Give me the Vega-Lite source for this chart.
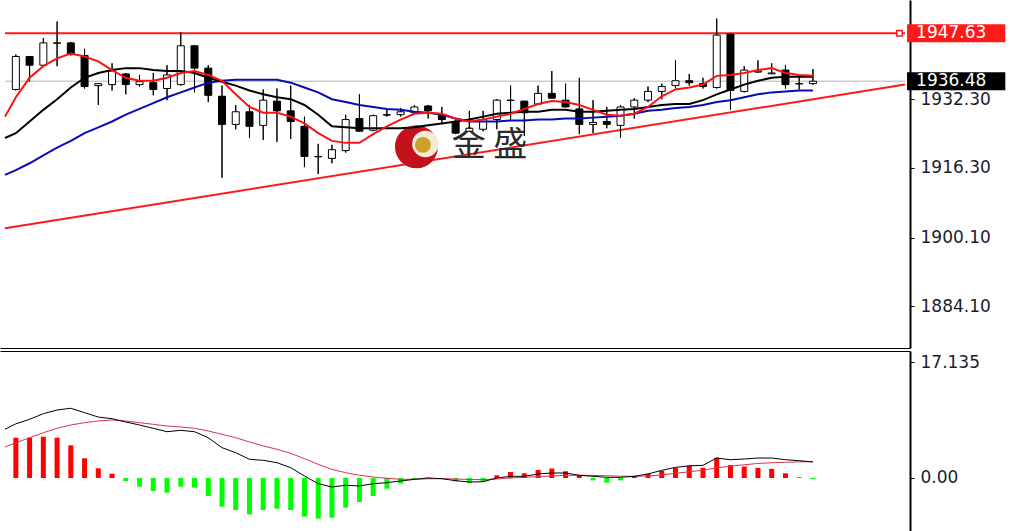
{
  "$schema": "https://vega.github.io/schema/vega-lite/v6.json",
  "padding": 0,
  "spacing": 3,
  "background": "white",
  "config": {
    "view": {"stroke": null},
    "axis": {"labelFont": "DejaVu Sans", "labelFontSize": 17, "labelColor": "#1b1b2f", "domainColor": "black", "tickColor": "black", "grid": false}
  },
  "datasets": {
    "candles": [
      {"i":1,"o":1934.56,"h":1942.68,"l":1934.33,"c":1942.23},
      {"i":2,"o":1942.23,"h":1942.3,"l":1936.36,"c":1940.2},
      {"i":3,"o":1940.2,"h":1946.52,"l":1939.97,"c":1945.39},
      {"i":4,"o":1945.39,"h":1950.36,"l":1939.97,"c":1945.3},
      {"i":5,"o":1945.39,"h":1945.6,"l":1942.46,"c":1942.68},
      {"i":6,"o":1942.46,"h":1944.04,"l":1934.78,"c":1935.23},
      {"i":7,"o":1935.46,"h":1935.95,"l":1930.95,"c":1935.91},
      {"i":8,"o":1935.69,"h":1940.65,"l":1934.33,"c":1938.85},
      {"i":9,"o":1938.17,"h":1938.39,"l":1933.43,"c":1935.69},
      {"i":10,"o":1935.69,"h":1937.94,"l":1935.23,"c":1936.36},
      {"i":11,"o":1936.14,"h":1938.39,"l":1933.2,"c":1934.56},
      {"i":12,"o":1934.78,"h":1940.2,"l":1932.07,"c":1937.94},
      {"i":13,"o":1935.69,"h":1947.88,"l":1935.46,"c":1944.72},
      {"i":14,"o":1944.72,"h":1944.9,"l":1933.88,"c":1939.52},
      {"i":15,"o":1939.52,"h":1940.2,"l":1931.62,"c":1933.2},
      {"i":16,"o":1932.98,"h":1935.46,"l":1914.02,"c":1926.43},
      {"i":17,"o":1926.43,"h":1930.95,"l":1925.3,"c":1929.37},
      {"i":18,"o":1929.37,"h":1930.95,"l":1923.27,"c":1925.98},
      {"i":19,"o":1926.21,"h":1934.56,"l":1922.82,"c":1932.07},
      {"i":20,"o":1931.85,"h":1934.78,"l":1922.37,"c":1929.59},
      {"i":21,"o":1929.59,"h":1935.46,"l":1923.05,"c":1927.11},
      {"i":22,"o":1925.98,"h":1928.24,"l":1916.5,"c":1918.98},
      {"i":23,"o":1918.98,"h":1921.92,"l":1914.92,"c":1918.9},
      {"i":24,"o":1918.53,"h":1921.69,"l":1917.4,"c":1920.56},
      {"i":25,"o":1920.34,"h":1928.69,"l":1919.88,"c":1927.56},
      {"i":26,"o":1927.79,"h":1933.43,"l":1924.8,"c":1924.85},
      {"i":27,"o":1925.08,"h":1928.69,"l":1924.85,"c":1928.46},
      {"i":28,"o":1928.69,"h":1929.82,"l":1928.24,"c":1928.6},
      {"i":29,"o":1928.69,"h":1930.27,"l":1928.24,"c":1929.37},
      {"i":30,"o":1929.14,"h":1930.95,"l":1928.91,"c":1930.49},
      {"i":31,"o":1930.72,"h":1930.95,"l":1927.79,"c":1929.59},
      {"i":32,"o":1928.69,"h":1930.49,"l":1926.66,"c":1927.56},
      {"i":33,"o":1927.11,"h":1927.56,"l":1924.17,"c":1924.4},
      {"i":34,"o":1924.85,"h":1929.59,"l":1924.8,"c":1925.53},
      {"i":35,"o":1925.3,"h":1929.59,"l":1924.85,"c":1927.56},
      {"i":36,"o":1927.56,"h":1932.3,"l":1925.3,"c":1932.07},
      {"i":37,"o":1932.07,"h":1935.46,"l":1927.56,"c":1932.0},
      {"i":38,"o":1931.85,"h":1931.9,"l":1923.72,"c":1929.14},
      {"i":39,"o":1931.17,"h":1935.46,"l":1930.95,"c":1933.65},
      {"i":40,"o":1933.65,"h":1938.85,"l":1932.5,"c":1932.53},
      {"i":41,"o":1932.07,"h":1935.91,"l":1930.45,"c":1930.49},
      {"i":42,"o":1930.04,"h":1937.27,"l":1924.17,"c":1926.43},
      {"i":43,"o":1926.43,"h":1932.07,"l":1924.4,"c":1926.9},
      {"i":44,"o":1927.11,"h":1930.49,"l":1925.53,"c":1926.43},
      {"i":45,"o":1926.2,"h":1930.95,"l":1923.27,"c":1930.49},
      {"i":46,"o":1930.49,"h":1932.53,"l":1927.79,"c":1932.07},
      {"i":47,"o":1932.07,"h":1935.23,"l":1931.62,"c":1934.11},
      {"i":48,"o":1934.11,"h":1935.91,"l":1932.3,"c":1935.23},
      {"i":49,"o":1935.46,"h":1941.33,"l":1934.78,"c":1936.59},
      {"i":50,"o":1936.59,"h":1938.17,"l":1935.46,"c":1936.14},
      {"i":51,"o":1935.91,"h":1937.27,"l":1934.78,"c":1935.23},
      {"i":52,"o":1935.01,"h":1951.04,"l":1934.78,"c":1947.2},
      {"i":53,"o":1947.42,"h":1947.5,"l":1929.82,"c":1934.33},
      {"i":54,"o":1934.11,"h":1939.97,"l":1933.88,"c":1939.07},
      {"i":55,"o":1938.6,"h":1941.33,"l":1938.4,"c":1938.85},
      {"i":56,"o":1938.2,"h":1940.65,"l":1938.17,"c":1938.4},
      {"i":57,"o":1939.07,"h":1940.2,"l":1934.78,"c":1935.69},
      {"i":58,"o":1935.91,"h":1937.72,"l":1934.56,"c":1935.85},
      {"i":59,"o":1935.91,"h":1939.3,"l":1935.69,"c":1936.48}
    ],
    "ma": [
      {"i":0.21,"r":1928.24,"k":1923.27,"b":1914.69},
      {"i":1,"r":1932.75,"k":1924.4,"b":1915.82},
      {"i":2,"r":1937.27,"k":1927.11,"b":1917.4},
      {"i":3,"r":1939.97,"k":1929.82,"b":1919.21},
      {"i":4,"r":1941.78,"k":1932.3,"b":1921.01},
      {"i":5,"r":1942.91,"k":1935.01,"b":1922.6},
      {"i":6,"r":1942.23,"k":1937.27,"b":1924.4},
      {"i":7,"r":1941.1,"k":1938.39,"b":1925.75},
      {"i":8,"r":1939.07,"k":1939.07,"b":1927.11},
      {"i":9,"r":1937.27,"k":1939.52,"b":1928.69},
      {"i":10,"r":1936.59,"k":1939.52,"b":1930.04},
      {"i":11,"r":1936.59,"k":1939.07,"b":1931.4},
      {"i":12,"r":1937.27,"k":1938.85,"b":1932.75},
      {"i":13,"r":1938.39,"k":1938.85,"b":1933.88},
      {"i":14,"r":1938.85,"k":1938.39,"b":1935.01},
      {"i":15,"r":1937.94,"k":1937.27,"b":1936.14},
      {"i":16,"r":1936.59,"k":1936.36,"b":1936.59},
      {"i":17,"r":1933.43,"k":1935.46,"b":1936.81},
      {"i":18,"r":1930.5,"k":1934.33,"b":1936.81},
      {"i":19,"r":1929.14,"k":1933.43,"b":1936.81},
      {"i":20,"r":1929.14,"k":1932.75,"b":1936.81},
      {"i":21,"r":1928.24,"k":1932.3,"b":1936.14},
      {"i":22,"r":1926.66,"k":1930.95,"b":1935.01},
      {"i":23,"r":1924.4,"k":1928.69,"b":1933.88},
      {"i":24,"r":1922.6,"k":1925.98,"b":1932.3},
      {"i":25,"r":1922.14,"k":1925.75,"b":1931.62},
      {"i":26,"r":1922.14,"k":1925.53,"b":1930.95},
      {"i":27,"r":1924.17,"k":1925.53,"b":1930.49},
      {"i":28,"r":1925.98,"k":1925.53,"b":1930.04},
      {"i":29,"r":1927.56,"k":1925.53,"b":1929.82},
      {"i":30,"r":1928.91,"k":1925.75,"b":1929.37},
      {"i":31,"r":1929.14,"k":1926.21,"b":1929.14},
      {"i":32,"r":1928.91,"k":1926.66,"b":1928.69},
      {"i":33,"r":1927.79,"k":1927.11,"b":1927.79},
      {"i":34,"r":1927.11,"k":1927.56,"b":1927.11},
      {"i":35,"r":1927.56,"k":1928.24,"b":1927.11},
      {"i":36,"r":1928.24,"k":1928.91,"b":1927.11},
      {"i":37,"r":1928.91,"k":1929.14,"b":1927.33},
      {"i":38,"r":1930.04,"k":1929.37,"b":1927.33},
      {"i":39,"r":1931.17,"k":1929.37,"b":1927.56},
      {"i":40,"r":1931.85,"k":1929.82,"b":1927.56},
      {"i":41,"r":1931.62,"k":1929.82,"b":1927.79},
      {"i":42,"r":1930.95,"k":1929.37,"b":1927.79},
      {"i":43,"r":1929.82,"k":1929.37,"b":1928.01},
      {"i":44,"r":1928.69,"k":1929.59,"b":1928.24},
      {"i":45,"r":1928.46,"k":1929.82,"b":1928.46},
      {"i":46,"r":1928.91,"k":1930.04,"b":1928.91},
      {"i":47,"r":1930.49,"k":1930.49,"b":1929.59},
      {"i":48,"r":1932.98,"k":1930.95,"b":1929.82},
      {"i":49,"r":1934.56,"k":1931.17,"b":1930.27},
      {"i":50,"r":1935.01,"k":1931.17,"b":1930.49},
      {"i":51,"r":1935.69,"k":1932.07,"b":1930.95},
      {"i":52,"r":1937.72,"k":1933.43,"b":1931.62},
      {"i":53,"r":1937.94,"k":1934.56,"b":1932.07},
      {"i":54,"r":1938.39,"k":1935.69,"b":1932.75},
      {"i":55,"r":1939.07,"k":1936.59,"b":1933.43},
      {"i":56,"r":1939.52,"k":1937.27,"b":1933.88},
      {"i":57,"r":1938.39,"k":1937.49,"b":1934.11},
      {"i":58,"r":1937.94,"k":1937.49,"b":1934.33},
      {"i":59,"r":1937.72,"k":1937.49,"b":1934.33}
    ],
    "macd": [
      {"i":0.21,"hist":null,"dif":7.2,"dea":4.58},
      {"i":1,"hist":5.95,"dif":8.0,"dea":5.2},
      {"i":2,"hist":5.95,"dif":8.67,"dea":5.95},
      {"i":3,"hist":6.1,"dif":9.5,"dea":6.69},
      {"i":4,"hist":5.95,"dif":10.04,"dea":7.34},
      {"i":5,"hist":4.83,"dif":10.3,"dea":7.83},
      {"i":6,"hist":2.91,"dif":9.65,"dea":8.17},
      {"i":7,"hist":1.43,"dif":9.0,"dea":8.42},
      {"i":8,"hist":0.64,"dif":8.76,"dea":8.57},
      {"i":9,"hist":-0.44,"dif":8.27,"dea":8.42},
      {"i":10,"hist":-1.28,"dif":7.83,"dea":8.17},
      {"i":11,"hist":-1.92,"dif":7.34,"dea":7.93},
      {"i":12,"hist":-2.17,"dif":6.84,"dea":7.68},
      {"i":13,"hist":-1.28,"dif":7.04,"dea":7.53},
      {"i":14,"hist":-1.43,"dif":6.84,"dea":7.34},
      {"i":15,"hist":-2.66,"dif":5.95,"dea":6.94},
      {"i":16,"hist":-4.24,"dif":4.48,"dea":6.45},
      {"i":17,"hist":-4.73,"dif":3.74,"dea":5.95},
      {"i":18,"hist":-5.37,"dif":2.76,"dea":5.32},
      {"i":19,"hist":-4.73,"dif":2.61,"dea":4.73},
      {"i":20,"hist":-4.53,"dif":2.26,"dea":4.24},
      {"i":21,"hist":-4.73,"dif":1.52,"dea":3.65},
      {"i":22,"hist":-5.71,"dif":0.3,"dea":2.85},
      {"i":23,"hist":-6.0,"dif":-0.84,"dea":2.02},
      {"i":24,"hist":-5.86,"dif":-1.33,"dea":1.28},
      {"i":25,"hist":-4.38,"dif":-1.08,"dea":0.78},
      {"i":26,"hist":-3.55,"dif":-1.18,"dea":0.4},
      {"i":27,"hist":-2.66,"dif":-0.84,"dea":0.15},
      {"i":28,"hist":-1.58,"dif":-0.69,"dea":-0.04},
      {"i":29,"hist":-0.84,"dif":-0.44,"dea":-0.2},
      {"i":30,"hist":-0.2,"dif":-0.2,"dea":-0.18},
      {"i":31,"hist":0.05,"dif":0.0,"dea":-0.12},
      {"i":32,"hist":-0.1,"dif":-0.1,"dea":-0.1},
      {"i":33,"hist":-0.5,"dif":-0.4,"dea":-0.15},
      {"i":34,"hist":-0.7,"dif":-0.6,"dea":-0.22},
      {"i":35,"hist":-0.5,"dif":-0.55,"dea":-0.25},
      {"i":36,"hist":0.4,"dif":0.0,"dea":-0.15},
      {"i":37,"hist":0.9,"dif":0.25,"dea":0.0},
      {"i":38,"hist":0.7,"dif":0.25,"dea":0.1},
      {"i":39,"hist":1.2,"dif":0.6,"dea":0.2},
      {"i":40,"hist":1.4,"dif":0.74,"dea":0.3},
      {"i":41,"hist":1.0,"dif":0.74,"dea":0.38},
      {"i":42,"hist":0.4,"dif":0.4,"dea":0.4},
      {"i":43,"hist":-0.35,"dif":0.25,"dea":0.38},
      {"i":44,"hist":-0.7,"dif":0.1,"dea":0.33},
      {"i":45,"hist":-0.35,"dif":0.1,"dea":0.27},
      {"i":46,"hist":0.25,"dif":0.25,"dea":0.25},
      {"i":47,"hist":0.6,"dif":0.6,"dea":0.3},
      {"i":48,"hist":1.05,"dif":1.13,"dea":0.45},
      {"i":49,"hist":1.5,"dif":1.57,"dea":0.7},
      {"i":50,"hist":1.8,"dif":1.8,"dea":0.92},
      {"i":51,"hist":1.5,"dif":1.87,"dea":1.15},
      {"i":52,"hist":3.0,"dif":2.95,"dea":1.5},
      {"i":53,"hist":1.9,"dif":2.7,"dea":1.75},
      {"i":54,"hist":1.7,"dif":2.8,"dea":1.95},
      {"i":55,"hist":1.5,"dif":2.95,"dea":2.15},
      {"i":56,"hist":1.35,"dif":2.95,"dea":2.25},
      {"i":57,"hist":0.7,"dif":2.7,"dea":2.32},
      {"i":58,"hist":0.1,"dif":2.56,"dea":2.38},
      {"i":59,"hist":-0.15,"dif":2.36,"dea":2.42}
    ],
    "hlines": [
      {"i":0.21,"i2":65.7,"p":1947.63,"kind":"resistance"},
      {"i":0.21,"i2":65.7,"p":1936.48,"kind":"bid"}
    ],
    "trend": [
      {"i":0.21,"p":1902.28},
      {"i":65.7,"p":1935.69}
    ],
    "tags": [
      {"i":65.85,"i2":73.0,"p":1947.63,"label":"1947.63","kind":"resistance"},
      {"i":65.85,"i2":73.0,"p":1936.48,"label":"1936.48","kind":"bid"}
    ]
  },
  "vconcat": [
    {
      "width": 910,
      "height": 348,
      "encoding": {
        "x": {"field": "i", "type": "quantitative", "scale": {"domain": [0.21, 65.7], "nice": false, "zero": false},
              "axis": {"orient": "bottom", "labels": false, "ticks": false, "title": null, "grid": false, "domain": true, "domainColor": "black", "domainWidth": 1}}
      },
      "layer": [
        {
          "data": {"name": "candles"},
          "mark": {"type": "rule", "color": "black", "strokeWidth": 1},
          "encoding": {
            "y": {"field": "l", "type": "quantitative", "title": null, "scale": {"domain": [1875.6, 1954.2], "nice": false, "zero": false},
                  "axis": {"orient": "right", "values": [1884.1, 1900.1, 1916.3, 1932.3], "format": ".2f", "tickSize": 4, "labelPadding": 6, "domainWidth": 2, "labelAlign": "left", "labelBaseline": "middle", "title": null}},
            "y2": {"field": "h"}
          }
        },
        {
          "data": {"name": "hlines"},
          "transform": [{"filter": "datum.kind == 'bid'"}],
          "mark": {"type": "rule", "color": "#b4b4b4", "strokeWidth": 1},
          "encoding": {
            "x2": {"field": "i2"},
            "y": {"field": "p", "type": "quantitative", "title": null, "scale": {"domain": [1875.6, 1954.2], "nice": false, "zero": false}}
          }
        },
        {
          "data": {"name": "trend"},
          "mark": {"type": "line", "color": "#ff1a1a", "strokeWidth": 2},
          "encoding": {
            "y": {"field": "p", "type": "quantitative", "title": null, "scale": {"domain": [1875.6, 1954.2], "nice": false, "zero": false}}
          }
        },
        {
          "data": {"name": "hlines"},
          "transform": [{"filter": "datum.kind == 'resistance'"}],
          "mark": {"type": "rule", "color": "#ff1a1a", "strokeWidth": 2},
          "encoding": {
            "x2": {"field": "i2"},
            "y": {"field": "p", "type": "quantitative", "title": null, "scale": {"domain": [1875.6, 1954.2], "nice": false, "zero": false}}
          }
        },
        {
          "data": {"values": [{"i": 30.15, "p": 1921.23}]},
          "mark": {"type": "point", "shape": "circle", "filled": true, "color": "#c4121c", "size": 1850, "opacity": 1},
          "encoding": {
            "y": {"field": "p", "type": "quantitative", "title": null, "scale": {"domain": [1875.6, 1954.2], "nice": false, "zero": false}}
          }
        },
        {
          "data": {"values": [{"i": 30.8, "p": 1921.9}]},
          "mark": {"type": "point", "shape": "circle", "filled": true, "color": "#f6e9d6", "size": 700, "opacity": 1},
          "encoding": {
            "y": {"field": "p", "type": "quantitative", "title": null, "scale": {"domain": [1875.6, 1954.2], "nice": false, "zero": false}}
          }
        },
        {
          "data": {"values": [{"i": 30.62, "p": 1921.68}]},
          "mark": {"type": "point", "shape": "circle", "filled": true, "color": "#c9a227", "size": 250, "opacity": 1},
          "encoding": {
            "y": {"field": "p", "type": "quantitative", "title": null, "scale": {"domain": [1875.6, 1954.2], "nice": false, "zero": false}}
          }
        },
        {
          "data": {"values": [{"i": 35.47, "p": 1921.4, "t": "金 盛"}]},
          "mark": {"type": "text", "font": "Noto Sans CJK SC", "fontSize": 34, "color": "#2a2a2a", "align": "center", "baseline": "middle"},
          "encoding": {
            "y": {"field": "p", "type": "quantitative", "title": null, "scale": {"domain": [1875.6, 1954.2], "nice": false, "zero": false}},
            "text": {"field": "t"}
          }
        },
        {
          "data": {"name": "candles"},
          "mark": {"type": "rule", "color": "black", "strokeWidth": 1},
          "encoding": {
            "y": {"field": "l", "type": "quantitative", "title": null, "scale": {"domain": [1875.6, 1954.2], "nice": false, "zero": false}},
            "y2": {"field": "h"}
          }
        },
        {
          "data": {"name": "candles"},
          "mark": {"type": "bar", "width": 7, "stroke": "black", "strokeWidth": 1},
          "encoding": {
            "y": {"field": "o", "type": "quantitative", "title": null, "scale": {"domain": [1875.6, 1954.2], "nice": false, "zero": false}},
            "y2": {"field": "c"},
            "fill": {"condition": {"test": "datum.c >= datum.o", "value": "white"}, "value": "black"}
          }
        },
        {
          "data": {"name": "ma"},
          "mark": {"type": "line", "color": "#0a0ab4", "strokeWidth": 2},
          "encoding": {
            "y": {"field": "b", "type": "quantitative", "title": null, "scale": {"domain": [1875.6, 1954.2], "nice": false, "zero": false}}
          }
        },
        {
          "data": {"name": "ma"},
          "mark": {"type": "line", "color": "black", "strokeWidth": 2},
          "encoding": {
            "y": {"field": "k", "type": "quantitative", "title": null, "scale": {"domain": [1875.6, 1954.2], "nice": false, "zero": false}}
          }
        },
        {
          "data": {"name": "ma"},
          "mark": {"type": "line", "color": "#ff1010", "strokeWidth": 2},
          "encoding": {
            "y": {"field": "r", "type": "quantitative", "title": null, "scale": {"domain": [1875.6, 1954.2], "nice": false, "zero": false}}
          }
        },
        {
          "data": {"values": [{"i": 65.3, "p": 1947.63}]},
          "mark": {"type": "point", "shape": "square", "filled": false, "fill": "white", "stroke": "#ff1a1a", "strokeWidth": 1.5, "size": 30, "opacity": 1},
          "encoding": {
            "y": {"field": "p", "type": "quantitative", "title": null, "scale": {"domain": [1875.6, 1954.2], "nice": false, "zero": false}}
          }
        },
        {
          "data": {"name": "tags"},
          "mark": {"type": "bar", "height": 18, "orient": "horizontal"},
          "encoding": {
            "x2": {"field": "i2"},
            "y": {"field": "p", "type": "quantitative", "title": null, "scale": {"domain": [1875.6, 1954.2], "nice": false, "zero": false}},
            "fill": {"condition": {"test": "datum.kind == 'resistance'", "value": "#ff1a1a"}, "value": "black"}
          }
        },
        {
          "data": {"name": "tags"},
          "mark": {"type": "text", "font": "DejaVu Sans", "fontSize": 17, "color": "white", "align": "left", "baseline": "middle", "dx": 9},
          "encoding": {
            "y": {"field": "p", "type": "quantitative", "title": null, "scale": {"domain": [1875.6, 1954.2], "nice": false, "zero": false}},
            "text": {"field": "label"}
          }
        }
      ]
    },
    {
      "width": 910,
      "height": 180,
      "data": {"name": "macd"},
      "encoding": {
        "x": {"field": "i", "type": "quantitative", "scale": {"domain": [0.21, 65.7], "nice": false, "zero": false},
              "axis": {"orient": "top", "labels": false, "ticks": false, "title": null, "grid": false, "domain": true, "domainColor": "black", "domainWidth": 1}}
      },
      "layer": [
        {
          "transform": [{"filter": "isValid(datum.hist)"}],
          "mark": {"type": "bar", "width": 5},
          "encoding": {
            "y": {"field": "hist", "type": "quantitative", "title": null, "scale": {"domain": [-7.83, 18.76], "nice": false, "zero": false},
                  "axis": {"orient": "right", "values": [0, 17.135], "labelExpr": "datum.value == 0 ? '0.00' : '17.135'", "tickSize": 4, "labelPadding": 6, "domainWidth": 2, "labelAlign": "left", "labelBaseline": "middle", "title": null}},
            "y2": {"datum": 0},
            "fill": {"condition": {"test": "datum.hist >= 0", "value": "#ff0000"}, "value": "#00ff00"}
          }
        },
        {
          "mark": {"type": "line", "color": "#d8344f", "strokeWidth": 1},
          "encoding": {
            "y": {"field": "dea", "type": "quantitative", "title": null, "scale": {"domain": [-7.83, 18.76], "nice": false, "zero": false}}
          }
        },
        {
          "mark": {"type": "line", "color": "black", "strokeWidth": 1},
          "encoding": {
            "y": {"field": "dif", "type": "quantitative", "title": null, "scale": {"domain": [-7.83, 18.76], "nice": false, "zero": false}}
          }
        }
      ]
    }
  ]
}
